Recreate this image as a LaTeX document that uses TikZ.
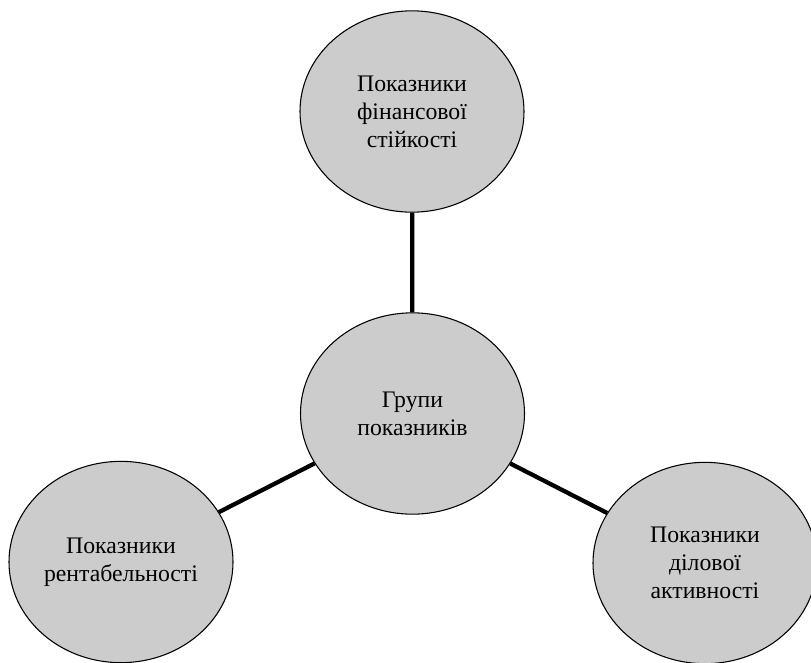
\documentclass[tikz,border=0pt]{standalone}
\usepackage{fontspec}
\setmainfont{Liberation Serif}
\usetikzlibrary{shapes.geometric}
\begin{document}
\begin{tikzpicture}[x=0.75pt,y=-0.75pt,
  bubble/.style={ellipse, draw=black, line width=0.8pt, fill=gray!40,
    minimum width=168pt, minimum height=151pt, inner sep=0pt,
    align=center, font=\fontsize{17.8pt}{21pt}\selectfont},
  link/.style={line width=3.2pt, black}]
\useasboundingbox (0,0) rectangle (811,662);
\node[bubble] (top) at (412,111.5) {Показники\\фінансової\\стійкості};
\node[bubble] (mid) at (412.5,413.5) {Групи\\показників};
\node[bubble] (left) at (121,562) {Показники\\рентабельності};
\node[bubble] (right) at (705,563) {Показники\\ділової\\активності};
\draw[link] (mid) -- (top);
\draw[link] (mid) -- (left);
\draw[link] (mid) -- (right);
\end{tikzpicture}
\end{document}
